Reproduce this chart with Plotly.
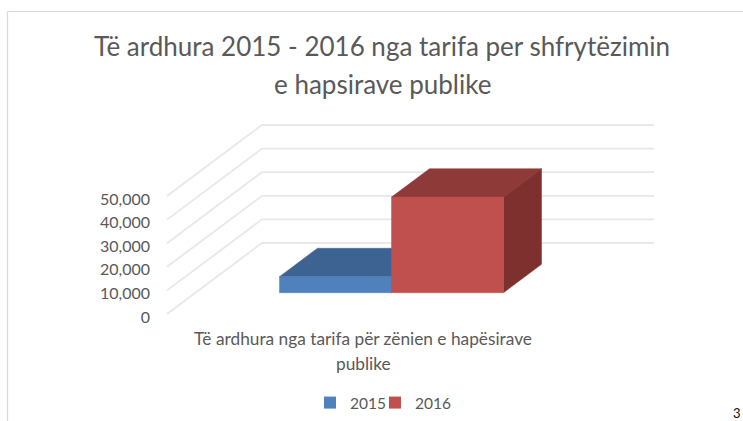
import plotly.graph_objects as go

# ---- data ----
categories = ["Të ardhura nga tarifa për zënien e hapësirave"]
category_second_line = "publike"
series_names = ["2015", "2016"]
values_2015 = [6800]
values_2016 = [40500]
y_ticks = [0, 10000, 20000, 30000, 40000, 50000]
title_lines = ["Të ardhura 2015 - 2016 nga tarifa per shfrytëzimin", "e hapsirave publike"]

# ---- layout / 3D projection constants ----
W, H = 743, 421
L, R, T, B = 155, 660, 100, 326
PX_PER_UNIT_Y = 118 / 50000
PX_PER_UNIT_X = 112
Y0_PX, X0_PX = 314, 363
DEPTH_X = 95 / 112            # full floor depth, x units
DEPTH_Y = 71 / PX_PER_UNIT_Y  # full floor depth, y units
FLOOR_W = 3.5
BAR_START = 0.30              # share of depth in front of the bars
BAR_DEPTH = 0.40              # share of depth the bars take

TEXT = "#595959"
GRID = "#E8E8E8"
FONT = "Lato"
BLUE = dict(front="#4F81BD", top="#3C6391", side="#2F4F75")
RED = dict(front="#C0504D", top="#8E3A38", side="#7D302E")

x_range = [(L - X0_PX) / PX_PER_UNIT_X, (R - X0_PX) / PX_PER_UNIT_X]
y_range = [(Y0_PX - B) / PX_PER_UNIT_Y, (Y0_PX - T) / PX_PER_UNIT_Y]

fig = go.Figure()


def face(xs, ys, color):
    fig.add_trace(go.Scatter(x=xs, y=ys, mode="lines", fill="toself", fillcolor=color,
                             line=dict(color=color, width=0.5), showlegend=False, hoverinfo="skip"))


# gridlines: wall + back plane
for v in y_ticks:
    fig.add_trace(go.Scatter(
        x=[-FLOOR_W / 2, -FLOOR_W / 2 + DEPTH_X, FLOOR_W / 2 + DEPTH_X],
        y=[v, v + DEPTH_Y, v + DEPTH_Y],
        mode="lines", line=dict(color=GRID, width=1.8), showlegend=False, hoverinfo="skip"))


def box(left, value, colors):
    dx0, dy0 = DEPTH_X * BAR_START, DEPTH_Y * BAR_START
    dx, dy = DEPTH_X * BAR_DEPTH, DEPTH_Y * BAR_DEPTH
    x0, x1 = left + dx0, left + 1 + dx0
    y0, y1 = dy0, value + dy0
    face([x0, x1, x1 + dx, x0 + dx, x0], [y1, y1, y1 + dy, y1 + dy, y1], colors["top"])
    face([x1, x1 + dx, x1 + dx, x1, x1], [y0, y0 + dy, y1 + dy, y1, y0], colors["side"])
    face([x0, x1, x1, x0, x0], [y0, y0, y1, y1, y0], colors["front"])


box(-1, values_2015[0], BLUE)
box(0, values_2016[0], RED)

# legend entries (one legend per entry so each can be placed on its own)
for name, colors, lg in zip(series_names, (BLUE, RED), ("legend", "legend2")):
    fig.add_trace(go.Scatter(x=[None], y=[None], mode="markers", name=name, legend=lg,
                             marker=dict(symbol="square", size=12, color=colors["front"])))


def px_x(p):
    return (p - L) / (R - L)


def paper_y(p):
    return (B - p) / (B - T)


def legend_at(px):
    return dict(orientation="h", x=px_x(px), y=paper_y(403),
                xanchor="left", yanchor="middle", font=dict(family=FONT, size=15.5, color=TEXT),
                bgcolor="rgba(0,0,0,0)", borderwidth=0)


frame = dict(color="#D9D9D9", width=1.2)
fig.update_layout(
    width=W, height=H, autosize=False,
    margin=dict(l=L, r=W - R, t=T, b=H - B, autoexpand=False),
    paper_bgcolor="white", plot_bgcolor="white",
    font=dict(family=FONT, color=TEXT, size=15),
    title=dict(text=title_lines[0], x=382 / W, xref="container", xanchor="center",
               y=1 - 47 / H, yref="container", yanchor="middle",
               font=dict(family=FONT, size=26, color=TEXT)),
    xaxis=dict(range=x_range, tickmode="array", tickvals=[0], ticktext=categories,
               showgrid=False, zeroline=False, showline=False, ticks="", fixedrange=True,
               tickfont=dict(family=FONT, size=17.3, color=TEXT), automargin=False,
               ticklabelstandoff=1),
    yaxis=dict(range=y_range, tickmode="array", tickvals=y_ticks, tickformat=",",
               showgrid=False, zeroline=False, showline=False, ticks="", fixedrange=True,
               tickfont=dict(family=FONT, size=16, color=TEXT), automargin=False,
               ticklabelstandoff=4, ticklabelshift=3),
    showlegend=True,
    legend=legend_at(310),
    legend2=legend_at(375),
    annotations=[
        dict(text=title_lines[1], xref="paper", yref="paper", x=px_x(382), y=paper_y(84),
             xanchor="center", yanchor="middle", showarrow=False,
             font=dict(family=FONT, size=26, color=TEXT)),
        dict(text=category_second_line, xref="paper", yref="paper", x=px_x(363), y=paper_y(363),
             xanchor="center", yanchor="middle", showarrow=False,
             font=dict(family=FONT, size=17.3, color=TEXT)),
        dict(text="3", xref="paper", yref="paper", x=px_x(743), y=paper_y(413),
             xanchor="right", yanchor="middle", showarrow=False,
             font=dict(family=FONT, size=13, color="#111111")),
    ],
    shapes=[
        dict(type="line", xref="paper", yref="paper", x0=px_x(7.5), x1=px_x(743),
             y0=paper_y(11.5), y1=paper_y(11.5), line=frame),
        dict(type="line", xref="paper", yref="paper", x0=px_x(7.5), x1=px_x(7.5),
             y0=paper_y(11.5), y1=paper_y(421), line=frame),
    ],
)

fig.write_html("out.html", config={"displayModeBar": False},
               post_script="document.body.style.margin='0';")
